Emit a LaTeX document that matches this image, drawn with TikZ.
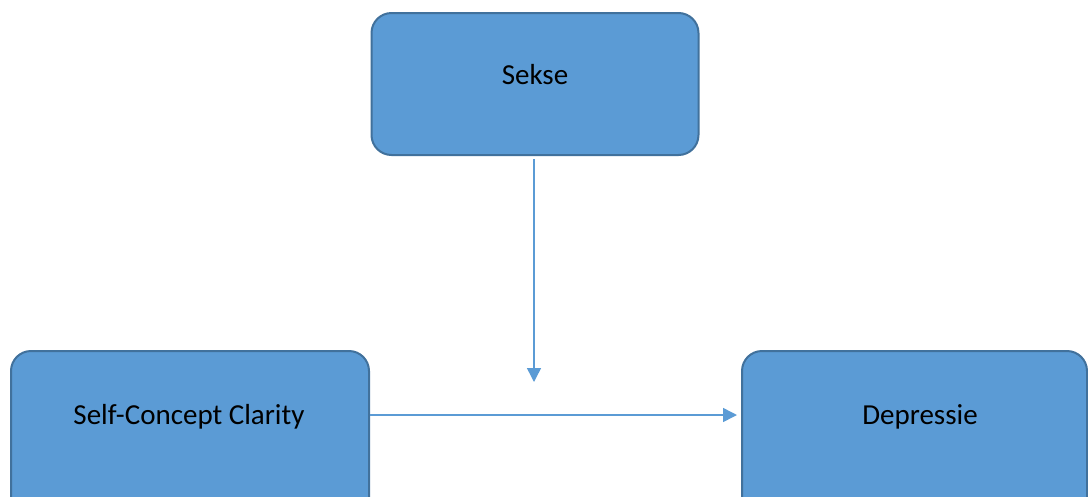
\documentclass[tikz,border=0pt]{standalone}
\usepackage{fontspec}
\setmainfont{Carlito}
\usetikzlibrary{arrows.meta}
\definecolor{boxfill}{HTML}{5B9BD5}
\definecolor{boxline}{HTML}{41719C}
\definecolor{arrowc}{HTML}{5B9BD5}
\begin{document}
\begin{tikzpicture}[x=1pt,y=-1pt,
  box/.style={draw=boxline,fill=boxfill,line width=2pt,rounded corners=20pt,inner sep=0pt},
  lbl/.style={font=\fontsize{29}{34}\selectfont,text=black,inner sep=0pt},
  conn/.style={draw=arrowc,line width=1.5pt,-{Triangle[length=14pt,width=14pt]}}]
\useasboundingbox (0,0) rectangle (1088,496);
\clip (0,0) rectangle (1088,496);
\node[box,minimum width=327pt,minimum height=142pt] (sekse) at (535,84) {};
\node[box,minimum width=358pt,minimum height=180pt] (scc) at (190,441) {};
\node[box,minimum width=345pt,minimum height=180pt] (dep) at (914.5,441) {};
\node[lbl] (tsekse) at (535,75) {Sekse};
\node[lbl] (tscc) at (189,417) {Self-Concept Clarity};
\node[lbl] (tdep) at (920,417) {Depressie};
\coordinate (mod) at (534,382);
\draw[conn] (sekse.south -| mod) ++(0,3) -- (mod);
\draw[conn] (scc.east |- 0,415) -- ([xshift=-4pt]dep.west |- 0,415);
\end{tikzpicture}
\end{document}
